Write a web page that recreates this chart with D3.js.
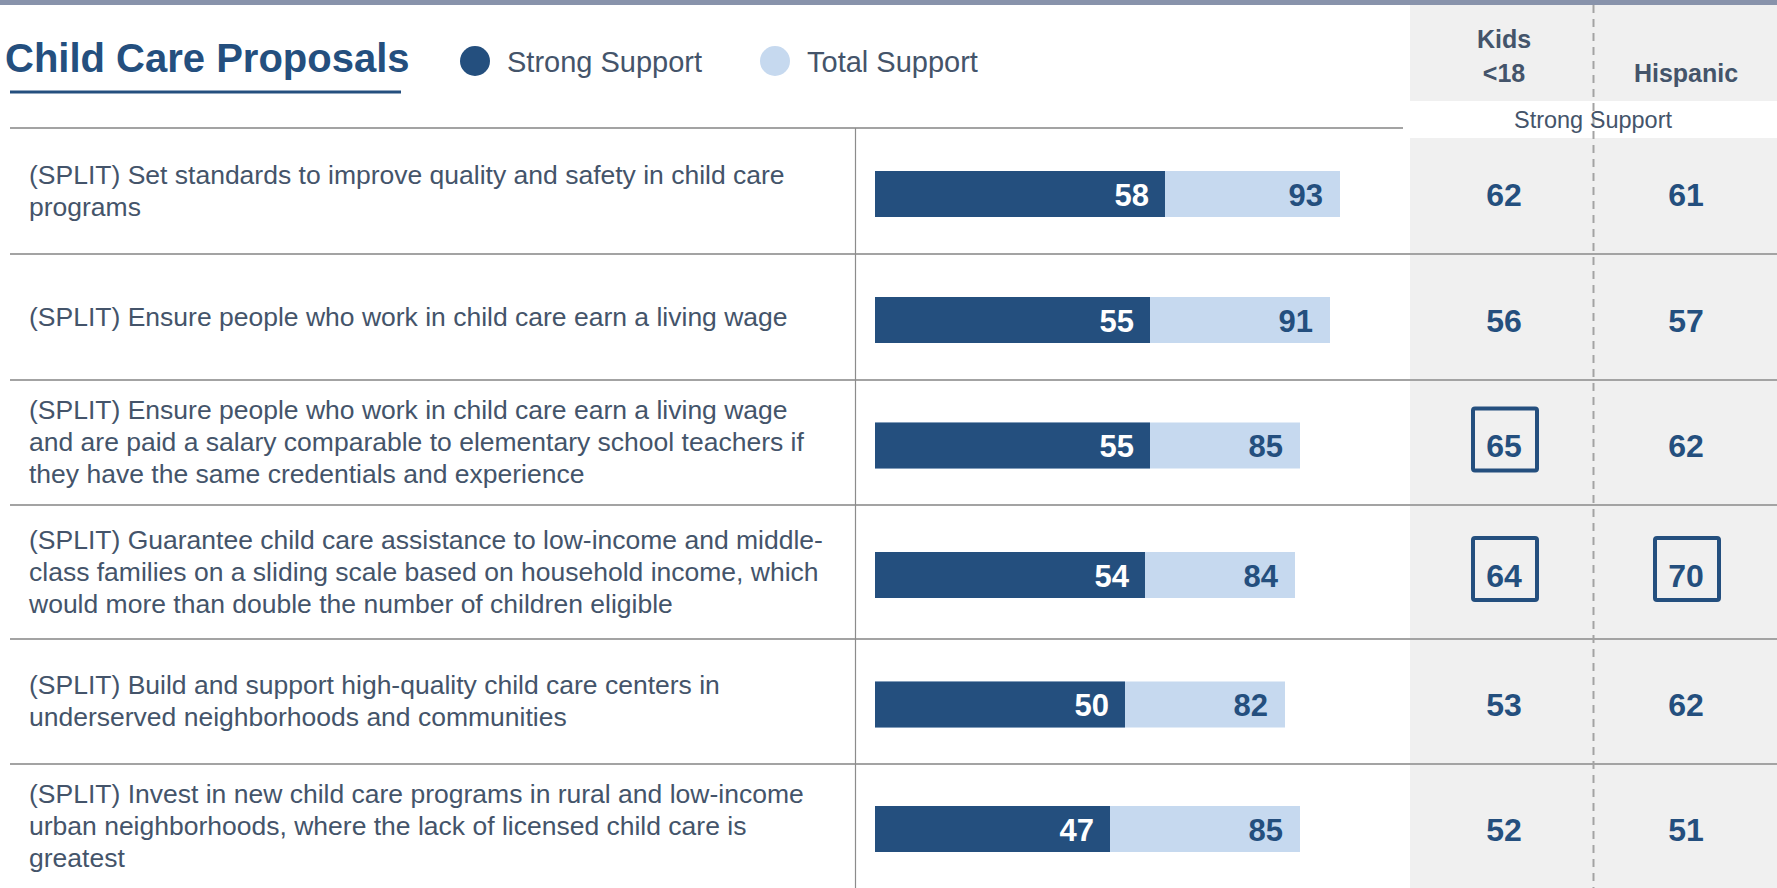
<!DOCTYPE html>
<html>
<head>
<meta charset="utf-8">
<script src="https://cdn.jsdelivr.net/npm/d3@7"></script>
<style>
  html, body { margin: 0; padding: 0; background: #fff; }
  svg { display: block; font-family: "Liberation Sans", Arial, sans-serif; }
</style>
</head>
<body>
<svg id="chart" width="1777" height="888"></svg>
<script>
// ---- data ----
const title = "Child Care Proposals";
const seriesNames = ["Strong Support", "Total Support"];
const categories = [
  ["(SPLIT) Set standards to improve quality and safety in child care", "programs"],
  ["(SPLIT) Ensure people who work in child care earn a living wage"],
  ["(SPLIT) Ensure people who work in child care earn a living wage", "and are paid a salary comparable to elementary school teachers if", "they have the same credentials and experience"],
  ["(SPLIT) Guarantee child care assistance to low-income and middle-", "class families on a sliding scale based on household income, which", "would more than double the number of children eligible"],
  ["(SPLIT) Build and support high-quality child care centers in", "underserved neighborhoods and communities"],
  ["(SPLIT) Invest in new child care programs in rural and low-income", "urban neighborhoods, where the lack of licensed child care is", "greatest"]
];
const strongSupport = [58, 55, 55, 54, 50, 47];
const totalSupport  = [93, 91, 85, 84, 82, 85];
const groupHeaders = [["Kids", "<18"], ["Hispanic"]];
const groupSubtitle = "Strong Support";
const kidsValues     = [62, 56, 65, 64, 53, 52];
const hispanicValues = [61, 57, 62, 70, 62, 51];
const kidsHighlight     = [false, false, true, true, false, false];
const hispanicHighlight = [false, false, false, true, false, false];

// ---- layout / style ----
const W = 1777, H = 888;
const rowEdges = [128, 254, 380, 505, 639, 764, 888];
const DARK = "#244f7e", LIGHT = "#c6d9ef", TEXT = "#44546a", GRID = "#a3a3a3", PANEL = "#f0f0f0";

const svg = d3.select("#chart");

const x = d3.scaleLinear().domain([0, 100]).range([875, 1375]);
const rowIdx = d3.range(categories.length);
const rowCenter = i => (rowEdges[i] + rowEdges[i + 1]) / 2;
const colX = d3.scaleOrdinal().domain(["kids", "hisp"]).range([1504, 1686]);

// gray panel on the right
svg.append("rect").attr("x", 1410).attr("y", 0).attr("width", W - 1410).attr("height", 101).attr("fill", PANEL);
svg.append("rect").attr("x", 1410).attr("y", 138).attr("width", W - 1410).attr("height", H - 138).attr("fill", PANEL);

// top band
svg.append("rect").attr("x", 0).attr("y", 0).attr("width", W).attr("height", 5).attr("fill", "#8893ab");

// dashed separator in panel
svg.append("line").attr("x1", 1593.5).attr("x2", 1593.5).attr("y1", 5).attr("y2", H)
  .attr("stroke", GRID).attr("stroke-width", 2).attr("stroke-dasharray", "8,6");

// title
svg.append("text").attr("x", 5).attr("y", 72).attr("font-size", 40).attr("font-weight", "bold")
  .attr("fill", DARK).text(title);
svg.append("line").attr("x1", 10).attr("x2", 401).attr("y1", 92).attr("y2", 92)
  .attr("stroke", DARK).attr("stroke-width", 3);

// legend
const legend = svg.append("g");
const legendItems = [
  {name: seriesNames[0], color: DARK, cx: 475, tx: 507},
  {name: seriesNames[1], color: LIGHT, cx: 775, tx: 807}
];
legend.selectAll("circle").data(legendItems).join("circle")
  .attr("cx", d => d.cx).attr("cy", 61).attr("r", 15).attr("fill", d => d.color);
legend.selectAll("text").data(legendItems).join("text")
  .attr("x", d => d.tx).attr("y", 72).attr("font-size", 29).attr("fill", TEXT).text(d => d.name);

// panel headers
const hdr = svg.append("g").attr("font-weight", "bold").attr("font-size", 25).attr("fill", TEXT).attr("text-anchor", "middle");
hdr.append("text").attr("x", colX("kids")).attr("y", 48).text(groupHeaders[0][0]);
hdr.append("text").attr("x", colX("kids")).attr("y", 82).text(groupHeaders[0][1]);
hdr.append("text").attr("x", colX("hisp")).attr("y", 82).text(groupHeaders[1][0]);
svg.append("text").attr("x", 1593).attr("y", 128).attr("text-anchor", "middle")
  .attr("font-size", 23.5).attr("fill", TEXT).text(groupSubtitle);

// grid lines
svg.append("line").attr("x1", 10).attr("x2", 1403).attr("y1", rowEdges[0]).attr("y2", rowEdges[0])
  .attr("stroke", GRID).attr("stroke-width", 2);
svg.selectAll("line.rowline").data(rowEdges.slice(1, -1)).join("line").attr("class", "rowline")
  .attr("x1", 10).attr("x2", W).attr("y1", d => d).attr("y2", d => d)
  .attr("stroke", GRID).attr("stroke-width", 2);
svg.append("line").attr("x1", 855.5).attr("x2", 855.5).attr("y1", rowEdges[0]).attr("y2", H)
  .attr("stroke", "#8c8c8c").attr("stroke-width", 1.2);

// category labels
const lh = 32;
const labels = svg.append("g");
rowIdx.forEach(i => {
  const lines = categories[i];
  const n = lines.length;
  const t = labels.append("text").attr("font-size", 26.5).attr("fill", TEXT);
  lines.forEach((ln, k) => {
    t.append("tspan").attr("x", 29).attr("y", rowCenter(i) + 8.5 + (k - (n - 1) / 2) * lh).text(ln);
  });
});

// bars
const barH = 46;
const bars = svg.append("g");
bars.selectAll("rect.total").data(rowIdx).join("rect").attr("class", "total")
  .attr("x", x(0)).attr("y", i => rowCenter(i) + 3 - barH / 2)
  .attr("width", i => x(totalSupport[i]) - x(0)).attr("height", barH).attr("fill", LIGHT);
bars.selectAll("rect.strong").data(rowIdx).join("rect").attr("class", "strong")
  .attr("x", x(0)).attr("y", i => rowCenter(i) + 3 - barH / 2)
  .attr("width", i => x(strongSupport[i]) - x(0)).attr("height", barH).attr("fill", DARK);
bars.selectAll("text.strong").data(rowIdx).join("text").attr("class", "strong")
  .attr("x", i => x(strongSupport[i]) - 16).attr("y", i => rowCenter(i) + 3 + 11.5)
  .attr("text-anchor", "end").attr("font-size", 31).attr("font-weight", "bold").attr("fill", "#fff")
  .text(i => strongSupport[i]);
bars.selectAll("text.total").data(rowIdx).join("text").attr("class", "total")
  .attr("x", i => x(totalSupport[i]) - 17).attr("y", i => rowCenter(i) + 3 + 11.5)
  .attr("text-anchor", "end").attr("font-size", 31).attr("font-weight", "bold").attr("fill", DARK)
  .text(i => totalSupport[i]);

// panel values
const cols = [
  {key: "kids", vals: kidsValues, hl: kidsHighlight},
  {key: "hisp", vals: hispanicValues, hl: hispanicHighlight}
];
const pv = svg.append("g");
cols.forEach(c => {
  pv.selectAll("rect.box-" + c.key).data(rowIdx.filter(i => c.hl[i])).join("rect")
    .attr("class", "box-" + c.key)
    .attr("x", colX(c.key) - 31).attr("y", i => rowCenter(i) - 34)
    .attr("width", 64).attr("height", 62).attr("rx", 2)
    .attr("fill", "none").attr("stroke", DARK).attr("stroke-width", 4);
  pv.selectAll("text.v-" + c.key).data(rowIdx).join("text")
    .attr("class", "v-" + c.key)
    .attr("x", colX(c.key)).attr("y", i => rowCenter(i) + 3 + 11.5)
    .attr("text-anchor", "middle").attr("font-size", 32).attr("font-weight", "bold").attr("fill", DARK)
    .text(i => c.vals[i]);
});
</script>
</body>
</html>
